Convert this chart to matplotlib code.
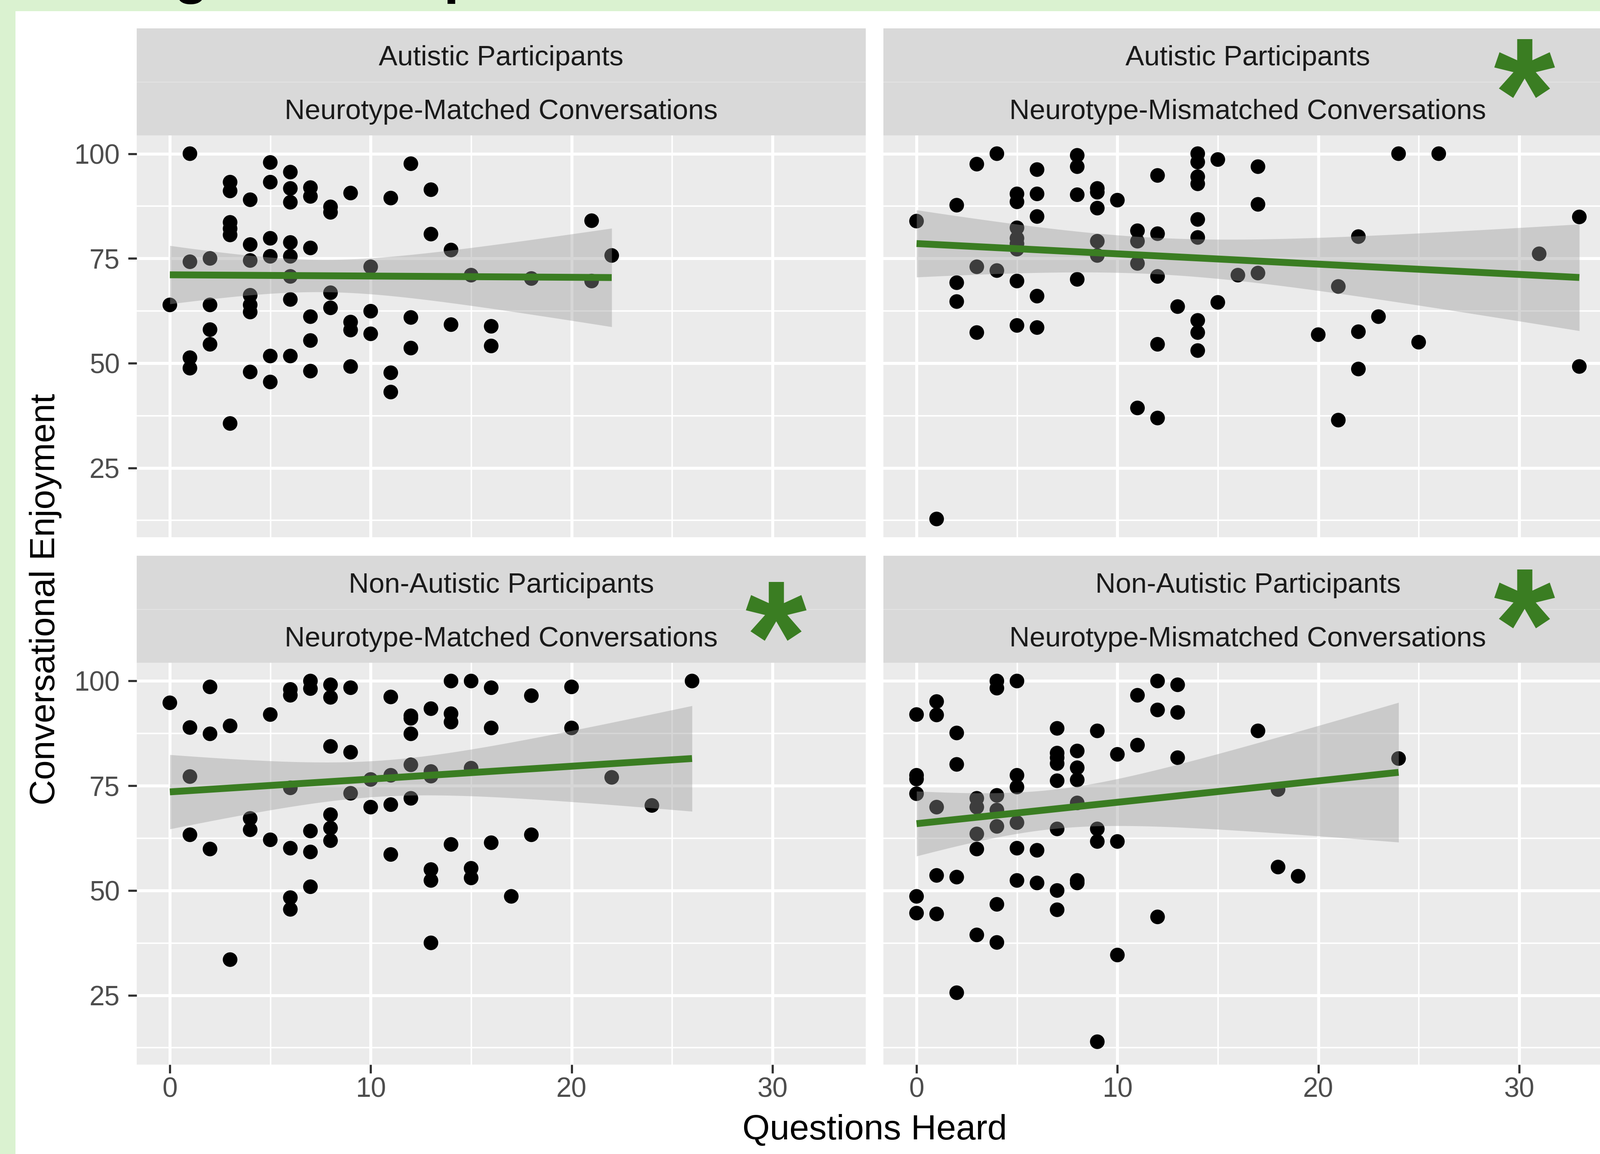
import numpy as np
import matplotlib
matplotlib.use("Agg")
import matplotlib.pyplot as plt
from matplotlib.patches import Rectangle

plt.rcParams["font.family"] = ["Liberation Sans", "DejaVu Sans"]

# --- values: questions heard (x) vs conversational enjoyment (y) ---
# top-left: autistic participants, neurotype-matched
tl_q = [0, 1, 1, 1, 1, 2, 2, 2, 2, 3, 3, 3, 3, 3, 3,
        4, 4, 4, 4, 4, 4, 4, 5, 5, 5, 5, 5, 5,
        6, 6, 6, 6, 6, 6, 6, 6, 7, 7, 7, 7, 7, 7,
        8, 8, 8, 8, 9, 9, 9, 9, 10, 10, 10, 11, 11, 11,
        12, 12, 12, 13, 13, 14, 14, 15, 16, 16, 18, 21, 21, 22]
tl_e = [63.9, 100, 74.2, 51.3, 48.8, 75, 63.9, 58, 54.5, 93.2, 91.1, 83.6, 82.1, 80.6, 35.6,
        89, 78.3, 74.5, 66.2, 63.9, 62.2, 47.9, 97.9, 93.2, 79.8, 75.5, 51.7, 45.5,
        95.6, 91.7, 88.4, 78.8, 75.5, 70.7, 65.2, 51.7, 91.9, 89.8, 77.5, 61.1, 55.4, 48.1,
        87.3, 86, 66.8, 63.2, 90.6, 59.8, 57.9, 49.2, 73, 62.4, 57, 89.4, 47.7, 43.1,
        97.6, 60.9, 53.6, 91.4, 80.8, 77, 59.2, 71, 58.8, 54.1, 70.2, 84, 69.6, 75.7]

# top-right: autistic participants, neurotype-mismatched
tr_q = [0, 1, 2, 2, 2, 3, 3, 3, 4, 4,
        5, 5, 5, 5, 5, 5, 5, 5, 6, 6, 6, 6, 6,
        8, 8, 8, 8, 9, 9, 9, 9, 9, 10, 11, 11, 11, 11,
        12, 12, 12, 12, 12, 13, 14, 14, 14, 14, 14, 14, 14, 14, 14,
        15, 15, 16, 17, 17, 17, 20, 21, 21, 22, 22, 22, 23, 24, 25, 26, 31, 33, 33]
tr_e = [83.9, 12.8, 87.7, 69.2, 64.7, 97.5, 73, 57.3, 100, 72.1,
        90.4, 88.5, 82.3, 79.8, 78.5, 77.2, 69.6, 59, 96.2, 90.4, 85, 66, 58.5,
        99.6, 96.9, 90.2, 70, 91.7, 90.8, 87, 79.1, 75.7, 88.9, 81.6, 79.1, 73.8, 39.3,
        94.8, 80.9, 70.7, 54.5, 36.9, 63.5, 100, 98, 94.5, 92.8, 84.3, 80, 60.2, 57.3, 53,
        98.6, 64.5, 71, 96.9, 87.9, 71.5, 56.8, 68.3, 36.4, 80.2, 57.5, 48.6, 61.1, 100, 55, 100, 76.1, 84.9, 49.2]

# bottom-left: non-autistic participants, neurotype-matched
bl_q = [0, 1, 1, 1, 2, 2, 2, 3, 3, 4, 4, 5, 5,
        6, 6, 6, 6, 6, 6, 7, 7, 7, 7, 7, 8, 8, 8, 8, 8, 8,
        9, 9, 9, 10, 10, 11, 11, 11, 11, 12, 12, 12, 12, 12,
        13, 13, 13, 13, 13, 13, 14, 14, 14, 14, 15, 15, 15, 15,
        16, 16, 16, 17, 18, 18, 20, 20, 22, 24, 26]
bl_e = [94.8, 88.9, 77.2, 63.3, 98.6, 87.4, 59.9, 89.3, 33.5, 67.2, 64.5, 92, 62.1,
        98, 96.6, 74.5, 60.1, 48.3, 45.5, 100, 98.2, 64.2, 59.2, 50.9, 99.1, 96.1, 84.4, 68.1, 64.9, 61.9,
        98.4, 83, 73.2, 76.5, 69.9, 96.2, 77.5, 70.5, 58.6, 91.7, 91.1, 87.4, 80, 72,
        93.4, 78.4, 77.3, 55, 52.4, 37.5, 100, 92.2, 90.2, 61, 100, 79.2, 55.3, 53,
        98.4, 88.8, 61.4, 48.6, 96.5, 63.3, 98.6, 88.8, 77, 70.3, 100]

# bottom-right: non-autistic participants, neurotype-mismatched
br_q = [0, 0, 0, 0, 0, 0, 1, 1, 1, 1, 1, 2, 2, 2, 2, 3, 3, 3, 3, 3,
        4, 4, 4, 4, 4, 4, 4, 5, 5, 5, 5, 5, 5, 6, 6,
        7, 7, 7, 7, 7, 7, 7, 7, 8, 8, 8, 8, 8, 8,
        9, 9, 9, 9, 10, 10, 10, 11, 11, 12, 12, 12, 13, 13, 13,
        17, 18, 18, 19, 24]
br_e = [92, 77.5, 76.6, 73.1, 48.6, 44.6, 95.1, 91.9, 69.9, 53.6, 44.4, 87.6, 80.1, 53.2, 25.6,
        72, 69.9, 63.5, 59.9, 39.4,
        100, 98.3, 72.7, 69.2, 65.3, 46.7, 37.6, 100, 77.5, 74.7, 66.2, 60.1, 52.4, 59.6, 51.8,
        88.7, 82.8, 81.7, 80.3, 76.2, 64.7, 50, 45.4, 83.3, 79.3, 76.4, 70.9, 52.4, 51.8,
        88.1, 64.7, 61.7, 13.9, 82.5, 61.7, 34.6, 96.6, 84.7, 100, 93.1, 43.7, 99.1, 92.5, 81.7,
        88.1, 74.1, 55.6, 53.4, 81.5]

participants = ["Autistic Participants", "Autistic Participants",
                "Non-Autistic Participants", "Non-Autistic Participants"]
conversations = ["Neurotype-Matched Conversations", "Neurotype-Mismatched Conversations",
                 "Neurotype-Matched Conversations", "Neurotype-Mismatched Conversations"]
significant = [False, True, True, True]

panels = [(tl_q, tl_e), (tr_q, tr_e), (bl_q, bl_e), (br_q, br_e)]

GREEN = "#3A7D22"
W, H = 3723, 2685


def fx(px):
    return px / W


def fy(py):
    return 1 - py / H


def lm_band(x, y, n_grid=80):
    # straight-line fit with a 95% confidence band, like geom_smooth(method="lm")
    x = np.asarray(x, float)
    y = np.asarray(y, float)
    n = len(x)
    b, a = np.polyfit(x, y, 1)
    s = np.sqrt(np.sum((y - (a + b * x)) ** 2) / (n - 2))
    sxx = np.sum((x - x.mean()) ** 2)
    z, df = 1.959964, n - 2
    t = z + (z**3 + z) / (4 * df) + (5 * z**5 + 16 * z**3 + 3 * z) / (96 * df**2)
    xs = np.linspace(x.min(), x.max(), n_grid)
    fit = a + b * xs
    se = s * np.sqrt(1 / n + (xs - x.mean()) ** 2 / sxx)
    return xs, fit, fit - t * se, fit + t * se


# shared (fixed) scales with ggplot's 5% expansion
all_q = np.concatenate([p[0] for p in panels])
all_e = np.concatenate([p[1] for p in panels])
xpad = 0.05 * (all_q.max() - all_q.min())
ypad = 0.05 * (all_e.max() - all_e.min())
xlim = (all_q.min() - xpad, all_q.max() + xpad)
ylim = (all_e.min() - ypad, all_e.max() + ypad)

fig = plt.figure(figsize=(W / 100, H / 100), dpi=100, facecolor="#DAF2D0")
fig.add_artist(Rectangle((fx(36), 0), 1, fy(26), transform=fig.transFigure,
                         facecolor="white", edgecolor="none", zorder=-10))

# bits of the slide title cut off at the top edge
fig.text(fx(445), fy(-18), "g", ha="center", va="baseline", fontsize=94, fontweight="bold")
fig.text(fx(1031), fy(-18), "p", ha="left", va="baseline", fontsize=94, fontweight="bold")

col_x = [318, 2055]
row_y = [66, 1293]
panel_w, strip_h, panel_h = 1696, 249, 935
star_pos = [None, (3546, 93), (1805, 1356), (3546, 1327)]

for i, (q, e) in enumerate(panels):
    r, c = divmod(i, 2)
    x0, y0 = col_x[c], row_y[r]

    sa = fig.add_axes([fx(x0), fy(y0 + strip_h), panel_w / W, strip_h / H])
    sa.set_facecolor("#D9D9D9")
    sa.set_xticks([])
    sa.set_yticks([])
    for sp in sa.spines.values():
        sp.set_visible(False)
    sa.axhline(0.5, color="#E6E6E6", lw=1.2)
    sa.text(0.5, 0.722, participants[i], transform=sa.transAxes, ha="center", va="center",
            fontsize=47, color="#1A1A1A")
    sa.text(0.5, 0.222, conversations[i], transform=sa.transAxes, ha="center", va="center",
            fontsize=47, color="#1A1A1A")

    ax = fig.add_axes([fx(x0), fy(y0 + strip_h + panel_h), panel_w / W, panel_h / H])
    ax.set_facecolor("#EBEBEB")
    for sp in ax.spines.values():
        sp.set_visible(False)
    ax.set_xlim(*xlim)
    ax.set_ylim(*ylim)
    ax.set_xticks([0, 10, 20, 30])
    ax.set_xticks([5, 15, 25], minor=True)
    ax.set_yticks([25, 50, 75, 100])
    ax.set_yticks([12.5, 37.5, 62.5, 87.5], minor=True)
    ax.grid(which="major", color="white", lw=5)
    ax.grid(which="minor", color="white", lw=2.5)
    ax.set_axisbelow(True)
    ax.tick_params(which="major", length=14.4, width=3.6, color="#333333",
                   labelsize=46, labelcolor="#4D4D4D")
    ax.tick_params(axis="x", pad=5.8)
    ax.tick_params(axis="y", pad=13.7)
    ax.tick_params(which="minor", length=0)
    if c == 1:
        ax.tick_params(axis="y", left=False, labelleft=False)
    if r == 0:
        ax.tick_params(axis="x", bottom=False, labelbottom=False)

    ax.scatter(q, e, s=600, color="black", edgecolors="none", zorder=2)
    xs, fit, lo, hi = lm_band(q, e)
    ax.fill_between(xs, lo, hi, color="#999999", alpha=0.4, lw=0, zorder=3)
    ax.plot(xs, fit, color=GREEN, lw=11.5, solid_capstyle="butt", zorder=4)

    if significant[i]:
        cx, top = star_pos[i]
        fig.text(fx(cx), fy(top + 250), "*", ha="center", va="baseline", fontsize=264,
                 fontweight="bold", color=GREEN, zorder=10)

fig.text(fx(106), fy(1394), "Conversational Enjoyment", rotation=90, ha="center",
         va="center", fontsize=59)
fig.text(fx(2035), fy(2651), "Questions Heard", ha="center", va="baseline", fontsize=59)

fig.savefig("out.png", dpi=100, facecolor=fig.get_facecolor())
